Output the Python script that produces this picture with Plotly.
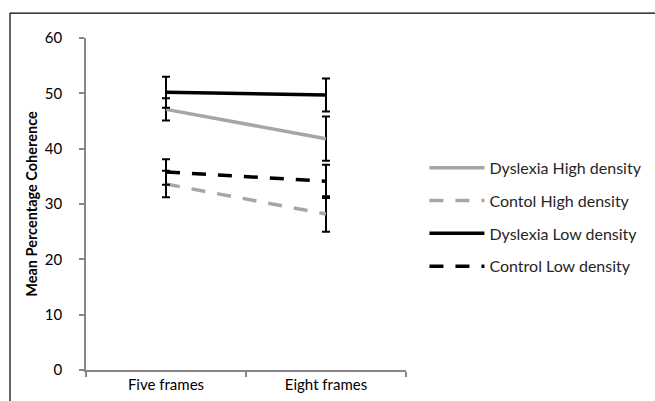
import plotly.graph_objects as go

categories = ["Five frames", "Eight frames"]
series_names = ["Dyslexia High density", "Contol High density", "Dyslexia Low density", "Control Low density"]
dys_high = [47.1, 41.8]
dys_high_err = [2.0, 4.0]
ctl_high = [33.6, 28.2]
ctl_high_err = [2.4, 3.2]
dys_low = [50.2, 49.7]
dys_low_err = [2.8, 3.0]
ctl_low = [35.8, 34.1]
ctl_low_err = [2.3, 3.0]
y_ticks = [0, 10, 20, 30, 40, 50, 60]

GRAY = "#a6a6a6"
BLACK = "#000000"
DASH = "14px,12px"
FONT = "Lato, Liberation Sans, Arial, sans-serif"

specs = [
    (series_names[0], dys_high, dys_high_err, GRAY, "solid"),
    (series_names[1], ctl_high, ctl_high_err, GRAY, DASH),
    (series_names[2], dys_low, dys_low_err, BLACK, "solid"),
    (series_names[3], ctl_low, ctl_low_err, BLACK, DASH),
]

fig = go.Figure()
for i, (name, vals, errs, col, dash) in enumerate(specs):
    fig.add_trace(go.Scatter(
        x=categories, y=vals, name=name, mode="lines",
        line=dict(color=col, width=3.5, dash=dash),
        error_y=dict(type="data", array=errs, visible=True, color=BLACK, thickness=2, width=4),
        legendgroup=f"g{i}",
    ))

axis_color = "#868686"
fig.update_layout(
    width=655, height=401,
    margin=dict(l=86, r=249, t=38, b=31, autoexpand=False),
    paper_bgcolor="white", plot_bgcolor="white",
    font=dict(family=FONT, size=15, color="#000000"),
    showlegend=True,
    legend=dict(
        xref="container", yref="container",
        x=0.648, y=0.458, xanchor="left", yanchor="middle",
        traceorder="grouped", tracegroupgap=9,
        font=dict(family=FONT, size=16, color="#262626"),
        itemwidth=55, bgcolor="rgba(0,0,0,0)",
    ),
    xaxis=dict(
        type="category", range=[-0.5, 1.5], tickson="boundaries",
        showline=True, linecolor=axis_color, linewidth=1.5,
        ticks="outside", ticklen=5, tickcolor=axis_color, tickwidth=1.5,
        showgrid=False, zeroline=False,
        tickfont=dict(family=FONT, size=15, color="#000000"),
    ),
    yaxis=dict(
        range=[0, 60], tickvals=y_ticks,
        showline=True, linecolor=axis_color, linewidth=1.5,
        ticks="outside", ticklen=5, tickcolor=axis_color, tickwidth=1.5,
        ticklabelstandoff=14,
        showgrid=False, zeroline=False,
        tickfont=dict(family=FONT, size=15, color="#000000"),
        title=dict(text="<b>Mean Percentage Coherence</b>", font=dict(family=FONT, size=14.5), standoff=4),
    ),
    shapes=[
        dict(type="line", xref="paper", yref="paper", x0=-0.2375, x1=1.8, y0=1.075, y1=1.075,
             line=dict(color="#000000", width=1.2)),
        dict(type="line", xref="paper", yref="paper", x0=-0.2375, x1=-0.2375, y0=1.075, y1=-0.2,
             line=dict(color="#000000", width=1.2)),
    ],
)

fig.write_html("out.html", config={"displayModeBar": False},
               post_script="document.body.style.margin='0';")
